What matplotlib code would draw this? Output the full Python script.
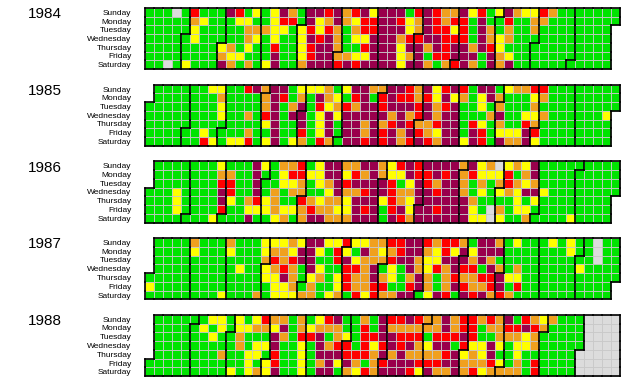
import datetime as dt
import numpy as np
import matplotlib
matplotlib.use("Agg")
import matplotlib.pyplot as plt
from matplotlib.patches import Rectangle
from matplotlib.collections import LineCollection, PatchCollection

plt.rcParams['font.family'] = ['Liberation Sans', 'DejaVu Sans']

##データ (週 x 曜日, '.' = 年の外)
years = [1984, 1985, 1986, 1987, 1988]
day_names = ['Sunday', 'Monday', 'Tuesday', 'Wednesday', 'Thursday', 'Friday', 'Saturday']
codes = 'XGYORM'   # X: no data, G..M: level
colors = ['#dcdcdc', '#00e400', '#ffff00', '#f0a01e', '#ff0000', '#99004c']

cal_1984 = [
    "GGGXGRGGGMRGYGYMOGMMRMORMY" + "MMMGRMROOMYRGYMOYYROGGGGGGG",
    "GGGGGOYGGGYYGGYRRGMYOMOYRR" + "MMRYOMRORRGMGGRGGOOGGGGGGGG",
    "GGGGGYGGGGGOOOYYGYRYROGORR" + "MMMYOMRRYRGMOGOGGOGGGGGGGG.",
    "GGGGGYGGGGGOYGYGGYMRMOGYYM" + "MMORRMMRRRGMOYOGGGGGGGGGGG.",
    "GGGGGGGGYOGYGGRGGYRMMOGGRM" + "MMYMMOMRMMOMRYGGGGGGGGGGGG.",
    "GGGGGGGGOYYGGGMGGYRMMOOYYM" + "MMYOMGRRMMMGMOYGGGGGGGGGGG.",
    "GGXGYGGGMOGOGYMGGOMMMRMRMM" + "MMYMMOGORMOGMOMGGGGGGGGGGG.",
]
cal_1985 = [
    ".GGGGGGYYGGRMOMMGYYYOGYMMO" + "OMMROMYRMRGMMGYOORRGGGGGGGG",
    ".GGGGGGGOGGGGOMRGOGMOYGRMG" + "RMRRORYMYOGYMOGGGYOGGGGGGGG",
    "GGGGGGGGYGGGGOMGOMGRYOROMM" + "RMMMRMORMGGYGOGGGOGGGGGGGGG",
    "GGGGGGGGYGGOGRMGMMGYMYMMMM" + "MOMORMOMMGGGOMGGYYOGGGGGGY.",
    "GGGGGGGGGGGGGYMGGMGYMGMMOM" + "ORMROORMMGRYGOGGROGGGGGGGG.",
    "GGGGGGYGGGGOGGMGGRGYMGMMOM" + "RMOMROYMMGMRGYYYMRGGGGGGGG.",
    "GGGGGGRYGYYRGYMGYOGROGMMRM" + "RMORMROMMYMRGMOOMYGGGGGGGG.",
]
cal_1986 = [
    ".GGGGGGGYGGGMYGOORGYMMOOMM" + "OYRMRMMMMOMYOXYOYMGGGGGGGGG",
    ".GGGGGGGOOGGMGGYRRYYMMYROM" + "OYYMRRMRMORYYYRGOMGGGGGGGGG",
    ".GGGGGGGRRGGMGGYYOGYOMRMMM" + "MRGYMROMMOGOGOROYOGGGGGGGGG",
    "GGGYGGGGMRGGMGOGOOGGYMOORM" + "MROOMMRMMOGYGYOYMMYGGGGGGGG",
    "GGGYGGGGMYGORYOGGROYOOYMMM" + "YROYMMMMMMOGGGGYGYGGGGGGGG.",
    "GGGYGGGGRGGYYYOYYOROOYYMRM" + "GRMYMMRMMMYGXOGYYGGGGGGGGG.",
    "GGGGGGGYGGGMGGYOGOMMOOOMMM" + "GMROMMMMMMYYXYGGOGGGGYGGGG.",
]
cal_1987 = [
    ".GGGGOGGGOGGGYYYOYMMYYRYYO" + "ORRMMRORROGMMOGYGGGYGYGGXGG",
    ".GGGGYGGGYGGGYOOYMMYGRYGMO" + "YORMMOYRYMYMMMGGGGGGGYGGXGG",
    ".GGGGGGGGGGGGORORMMGGRMYOO" + "ORMMOYYMMMOMOGGGGGGGGGGGXGG",
    ".GGGGGGGGGYGGYOROGMYGGRROM" + "GYGMOYROMRRGMOGOGGGGGGYGGGG",
    "GGGGGGGGGGGGGYYMOGYOGYROOM" + "OYGOMOGOROORRMYYGGGGGGGGGGG",
    "YGGGGGGGGGGGGGYYOGOGGYROOR" + "RGGRMOGOMROORMGRGGGGGGGGGG.",
    "GGGGGGGGYGGGOGYYYOOGYOGRYR" + "OOMMGYMRGMRMOROGGGGGGGGGGG.",
]
cal_1988 = [
    ".GGGGGGYYGYGYROOGOGYRMGGOG" + "MRRMROOMORROROMGROYOGGGXXXX",
    ".GGGGGYGYGYYOOYMGOYOOOGGRG" + "MOOOOOOMORRGOORRMROGGGGXXXX",
    ".GGGGGGYGGOGGGMOGRRMGOYGRR" + "MMRRRGRRRMRGGOOOYOGGGGGXXXX",
    ".GGGGGGGGGOGYYMGGYGMORRGRY" + "RMRMOYMMGRYYMYGYYOGGGGGXXXX",
    ".GGGGGGGOGGYYGRGGYGMMMRRRO" + "MOMOOOORMYOYMGGYGGGGGGXXXXX",
    "GGGGGGGGGGGYGYRGGYGOMYMOGO" + "RMMMRRRMMOOORYGOGRGGGGXXXXX",
    "GGGGGGGGGYGYOYMGGYGMMGOYRO" + "MMMRYMOOMORYOOOOGRGGGGXXXXX",
]
cals = [cal_1984, cal_1985, cal_1986, cal_1987, cal_1988]


def month_grid(year):
    """各セルの月 (0 = 年の外)"""
    jan1 = dt.date(year, 1, 1)
    off = (jan1.weekday() + 1) % 7   # Sunday = 0
    m = np.zeros((7, 53), int)
    for c in range(53):
        for r in range(7):
            d = jan1 + dt.timedelta(days=c * 7 + r - off)
            if d.year == year:
                m[r, c] = d.month
    return m


def month_edges(m):
    mp = np.pad(m, 1)
    segs = []
    for r in range(7):
        for c in range(54):
            if mp[r + 1, c] != mp[r + 1, c + 1]:
                segs.append([(c, r), (c, r + 1)])
    for r in range(8):
        for c in range(53):
            if mp[r, c + 1] != mp[r + 1, c + 1]:
                segs.append([(c, r), (c + 1, r)])
    return segs


W, H = 639, 383
fig = plt.figure(figsize=(W / 100, H / 100), dpi=100)

for i, (yr, rows) in enumerate(zip(years, cals)):
    top = 7 + 76.75 * i
    ax = fig.add_axes([144 / W, 1 - (top + 63) / H, 477 / W, 63 / H])
    months = month_grid(yr)
    cells, fcs = [], []
    for r, s in enumerate(rows):
        s = s.ljust(53, '.')[:53]
        for c, ch in enumerate(s):
            if ch in codes and months[r, c] > 0:
                cells.append(Rectangle((c, r), 1, 1))
                fcs.append(colors[codes.index(ch)])
    ax.add_collection(PatchCollection(cells, facecolors=fcs, edgecolors='#c8c8c8',
                                      linewidths=0.6))
    ax.add_collection(LineCollection(month_edges(months), colors='black',
                                     linewidths=1.2, capstyle='projecting'))
    ax.set_xlim(-0.1, 53.1)
    ax.set_ylim(7.1, -0.1)
    ax.set_xticks([])
    ax.set_yticks(np.arange(7) + 0.5)
    ax.set_yticklabels(day_names, fontsize=6)
    ax.tick_params(axis='y', length=0, pad=9)
    for sp in ax.spines.values():
        sp.set_visible(False)
    fig.text(28 / W, 1 - (top + 7) / H, str(yr), fontsize=11, va='center', ha='left')

fig.savefig('out.png', dpi=100)
